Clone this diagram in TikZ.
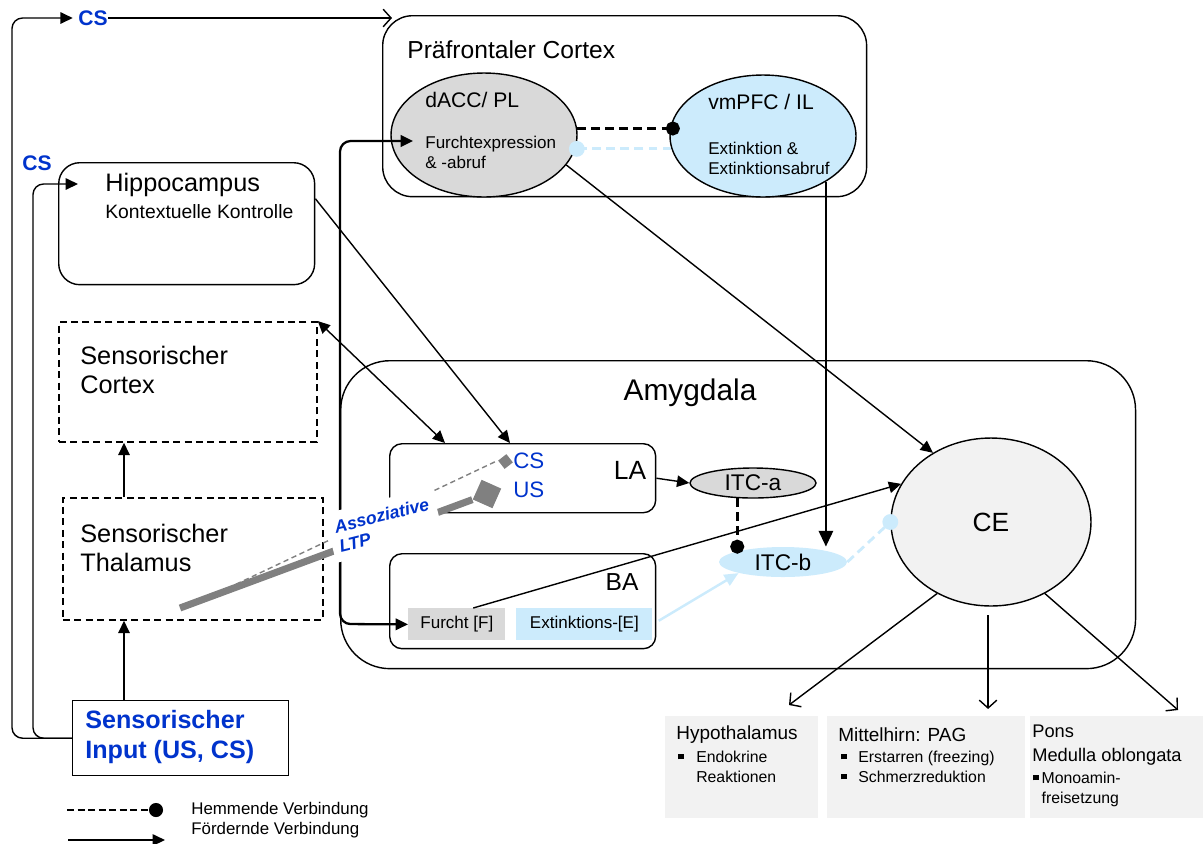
\documentclass[tikz,border=0pt]{standalone}
\usepackage{fontspec}
\setmainfont{Liberation Sans}
\usetikzlibrary{shapes.geometric,arrows.meta}
\definecolor{fearGray}{HTML}{D9D9D9}
\definecolor{extBlue}{HTML}{CCEBFC}
\definecolor{ceGray}{HTML}{F2F2F2}
\definecolor{csBlue}{HTML}{0033CC}
\definecolor{synGray}{HTML}{808080}
\newcommand{\fsz}[2]{\fontsize{#1}{#2}\selectfont}
\newcommand{\blt}{\rule[1.6pt]{3.2pt}{3.2pt}}

\begin{document}
\begin{tikzpicture}[x=0.02cm,y=-0.02cm,
		box/.style={draw,line width=0.8pt,anchor=north west,inner sep=0pt},
		dashbox/.style={box,line width=1pt,dash pattern=on 4pt off 2.5pt},
		oval/.style={ellipse,draw,line width=0.8pt,inner sep=0pt},
		outbox/.style={fill=ceGray,anchor=north west,inner sep=0pt},
		txt/.style={anchor=west,inner sep=0pt,align=left},
		fwd/.style={line width=0.8pt,-{Triangle[length=7pt,width=6.5pt]}},
		thickfwd/.style={line width=1.6pt,-{Triangle[length=9pt,width=8pt]}},
		openfwd/.style={line width=0.8pt,-{Straight Barb[length=4.5pt,width=10pt]}},
		inhib/.style={line width=1.6pt,dash pattern=on 5pt off 3pt,-{Circle[length=8pt]}},
		extinhib/.style={inhib,draw=extBlue,-{Circle[length=9pt]}}
	]
	\useasboundingbox (0,0) rectangle (1203,843);

	% Praefrontaler Cortex
	\node[box,rounded corners=17pt,minimum width=9.68cm,minimum height=3.62cm] (pfc) at (382,15) {};
	\node[txt,font=\fsz{14}{17}] (pfcLabel) at (407,50) {Präfrontaler Cortex};
	\node[oval,fill=fearGray,minimum width=3.72cm,minimum height=2.48cm] (dacc) at (484,135) {};
	\node[txt,font=\fsz{12}{14}] (daccLabel) at (425,100) {dACC/ PL};
	\node[txt,font=\fsz{9.7}{11.3}] (daccText) at (425,152) {Furchtexpression\\\& -abruf};
	\node[oval,fill=extBlue,minimum width=3.72cm,minimum height=2.44cm] (vmpfc) at (763,136) {};
	\node[txt,font=\fsz{12}{14}] (vmpfcLabel) at (708,102) {vmPFC / IL};
	\node[txt,font=\fsz{9.7}{11.3}] (vmpfcText) at (708,158) {Extinktion \&\\Extinktionsabruf};

	% linke Seite
	\node[box,rounded corners=12pt,minimum width=5.12cm,minimum height=2.44cm] (hippo) at (58,162) {};
	\node[txt,font=\fsz{14.4}{17}] (hippoLabel) at (105,185) {Hippocampus};
	\node[txt,font=\fsz{11}{13}] (hippoText) at (105,212) {Kontextuelle Kontrolle};
	\node[dashbox,minimum width=5.16cm,minimum height=2.4cm] (scortex) at (58,321) {};
	\node[txt,font=\fsz{14.4}{17}] (scortexText) at (80,370) {Sensorischer\\Cortex};
	\node[dashbox,minimum width=5.2cm,minimum height=2.44cm] (sthal) at (62,497) {};
	\node[txt,font=\fsz{14.4}{17}] (sthalText) at (80,548) {Sensorischer\\Thalamus};
	\node[box,minimum width=4.32cm,minimum height=1.5cm] (input) at (72,700) {};
	\node[txt,font=\fsz{14.3}{17}\bfseries,text=csBlue] (inputText) at (85,737) {Sensorischer\\Input (US, CS)};
	\node[font=\fsz{12}{14}\bfseries,text=csBlue,inner sep=0pt] (csTop) at (93,18) {CS};
	\node[font=\fsz{12}{14}\bfseries,text=csBlue,inner sep=0pt] (csHippo) at (37,163) {CS};

	% Amygdala
	\node[box,rounded corners=28pt,minimum width=15.9cm,minimum height=6.16cm] (amyg) at (340,360) {};
	\node[font=\fsz{17}{20}] (amygLabel) at (690,393) {Amygdala};
	\node[box,rounded corners=7pt,minimum width=5.32cm,minimum height=1.38cm] (la) at (389,443) {};
	\node[font=\fsz{15}{18}] (laLabel) at (630,470) {LA};
	\node[txt,font=\fsz{12.7}{15},text=csBlue] (laCS) at (513,461) {CS};
	\node[txt,font=\fsz{12.7}{15},text=csBlue] (laUS) at (513,490) {US};
	\node[box,rounded corners=7pt,minimum width=5.32cm,minimum height=1.9cm] (ba) at (389,553) {};
	\node[font=\fsz{14}{17}] (baLabel) at (622,582) {BA};
	\node[anchor=north west,fill=fearGray,minimum width=1.94cm,minimum height=0.64cm,inner sep=0pt,font=\fsz{9.7}{11}] (furcht) at (408,608) {Furcht [F]};
	\node[anchor=north west,fill=extBlue,minimum width=2.72cm,minimum height=0.64cm,inner sep=0pt,font=\fsz{9.7}{11}] (ext) at (516,608) {Extinktions-[E]};
	\node[oval,fill=fearGray,minimum width=2.52cm,minimum height=0.6cm,font=\fsz{12.9}{15}] (itca) at (753,483) {ITC-a};
	\node[ellipse,fill=extBlue,inner sep=0pt,minimum width=2.56cm,minimum height=0.6cm,font=\fsz{12.9}{15}] (itcb) at (783,562) {ITC-b};
	\node[oval,fill=ceGray,minimum width=4cm,minimum height=3.36cm,font=\fsz{15}{18}] (ce) at (991,522) {CE};

	% Ausgaenge
	\node[outbox,minimum width=3.06cm,minimum height=2.04cm] (hyp) at (665,716) {};
	\node[outbox,minimum width=3.96cm,minimum height=2.04cm] (pag) at (827,716) {};
	\node[outbox,minimum width=3.46cm,minimum height=2.04cm] (pons) at (1030,716) {};
	\node[txt,font=\fsz{10.8}{13}] (hypTitle) at (676,735) {Hypothalamus};
	\node[anchor=north west,inner sep=0pt,font=\fsz{9}{11.3}] (hypList) at (678,748) {\begin{tabular}{@{}l@{\hspace{7pt}}l@{}}\blt & Endokrine\\ & Reaktionen\end{tabular}};
	\node[txt,font=\fsz{10.8}{13}] (pagTitle) at (838,735) {Mittelhirn: PAG};
	\node[anchor=north west,inner sep=0pt,font=\fsz{9}{11.3}] (pagList) at (841,748) {\begin{tabular}{@{}l@{\hspace{6.5pt}}l@{}}\blt & Erstarren (freezing)\\ \blt & Schmerzreduktion\end{tabular}};
	\node[txt,font=\fsz{10.4}{13.6}] (ponsTitle) at (1032,745) {Pons\\Medulla oblongata};
	\node[anchor=north west,inner sep=0pt,font=\fsz{9}{11.3}] (ponsList) at (1033,769) {\begin{tabular}{@{}l@{\hspace{1.5pt}}l@{}}\blt & Monoamin-\\ & freisetzung\end{tabular}};

	% Legende
	\node[txt,font=\fsz{9.6}{11}] (legInhib) at (191,810) {Hemmende Verbindung};
	\node[txt,font=\fsz{9.6}{11}] (legFwd) at (191,830) {Fördernde Verbindung};
	\coordinate (legInhibA) at (67,810);
	\coordinate (legInhibB) at (156,810);
	\coordinate (legFwdA) at (68,840);
	\coordinate (legFwdB) at (165,840);
	\draw[inhib,line width=1.1pt,dash pattern=on 4pt off 2pt,shorten >=-4pt] (legInhibA) -- (legInhibB);
	\draw[fwd] (legFwdA) -- (legFwdB);

	% Verbindungen
	\coordinate (lane) at (124,0);
	\coordinate (pfcIn) at (392,18);
	\coordinate (hippoIn) at (78,184);
	\coordinate (daccIn) at (413,141);
	\coordinate (laIn1) at (445,443);
	\coordinate (laIn2) at (510,443);
	\coordinate (hypIn) at (789,705);
	\coordinate (ponsIn) at (1178,710);
	\draw[fwd] (input.north -| lane) -- (sthal.south -| lane);
	\draw[fwd] (sthal.north -| lane) -- (scortex.south -| lane);
	\draw[fwd,rounded corners=6pt,shorten >=3pt] (input.west) -| (12,18) -- (csTop.west);
	\draw[openfwd] (csTop.east) -- (pfcIn);
	\draw[fwd,rounded corners=6pt] (input.west) -| (33,184) -- (hippoIn);
	\draw[line width=1.3pt,{Triangle[length=7pt,width=6.5pt]}-{Triangle[length=7pt,width=6.5pt]},rounded corners=6pt] (daccIn) -| (340,624) -- (furcht.west);
	\draw[fwd,{Triangle[length=7pt,width=6.5pt]}-{Triangle[length=7pt,width=6.5pt]}] (scortex.north east) -- (laIn1);
	\draw[fwd] (hippo.11) -- (laIn2);
	\draw[fwd] (dacc.-20) -- (ce.130);
	\draw[fwd] (furcht.45) -- (ce.157);
	\draw[thickfwd] (vmpfc.-36) -- (vmpfc.-36 |- itcb.north);
	\draw[inhib,shorten >=-6pt] (dacc.4) -- (dacc.4 -| vmpfc.west);
	\draw[extinhib,shorten >=-5pt] (vmpfc.188) -- (vmpfc.188 -| dacc.east);
	\draw[fwd] (la.east) -- (itca.west);
	\draw[inhib,shorten >=-4pt] (itca.-136) -- (itca.-136 |- itcb.north);
	\draw[line width=1.4pt,draw=extBlue,-{Triangle[length=8pt,width=7pt]},shorten <=4pt] (ext.east) -- (itcb.-166);
	\draw[extinhib,shorten >=-4.5pt] (itcb.east) -- (ce.west);
	\draw[openfwd] (ce.-127) -- (hypIn);
	\draw[openfwd,shorten <=5pt,shorten >=4pt] (ce.-92) -- (ce.-92 |- pag.north);
	\draw[openfwd] (ce.-53) -- (ponsIn);

	% Synapsen (Assoziative LTP)
	\node[fill=synGray,minimum size=0.43cm,inner sep=0pt,rotate=66] (usSyn) at (487,494) {};
	\node[fill=synGray,minimum size=0.21cm,inner sep=0pt,rotate=38] (csSyn) at (505.5,461.5) {};
	\coordinate (usAxon) at (180,608);
	\coordinate (csAxon) at (228,588);
	\draw[synGray,line width=4pt] (usAxon) -- (usSyn.north west);
	\draw[synGray,line width=0.8pt,dash pattern=on 3pt off 2pt] (csAxon) -- (csSyn.north west);
	\node[fill=white,rotate=14,align=left,inner xsep=4pt,inner ysep=5pt,font=\fsz{10}{11.5}\bfseries\itshape,text=csBlue] (ltp) at (384,525) {Assoziative\\LTP};
\end{tikzpicture}
\end{document}
